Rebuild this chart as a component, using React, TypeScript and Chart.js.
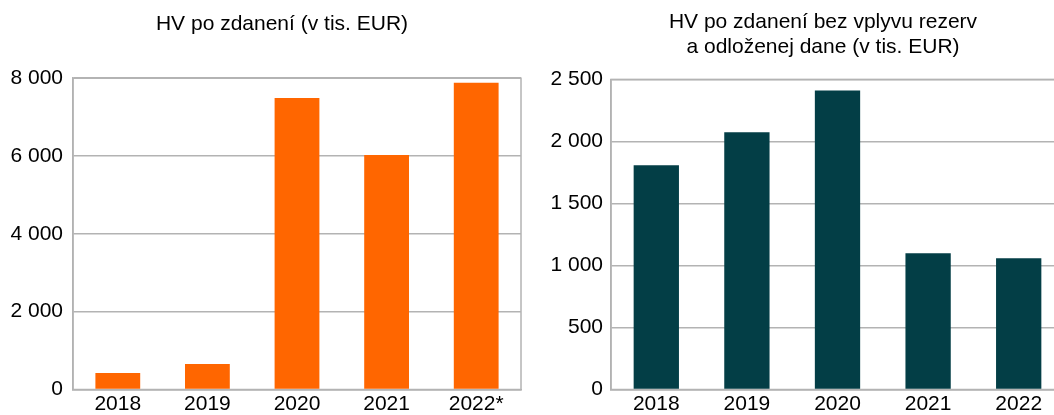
import React, { useEffect, useRef } from "react";
import { Chart, registerables } from "chart.js";

Chart.register(...registerables);

const categoriesLeft = ["2018", "2019", "2020", "2021", "2022*"];
const valuesLeft = [424, 655, 7494, 6028, 7880];
const titleLeft = "HV po zdanení (v tis. EUR)";

const categoriesRight = ["2018", "2019", "2020", "2021", "2022"];
const valuesRight = [1807, 2073, 2411, 1099, 1059];
const titleRight = ["HV po zdanení bez vplyvu rezerv", "a odloženej dane (v tis. EUR)"];

const FONT = "'Liberation Sans', Arial, sans-serif";
const GRID = "#b3b3b3";
const FS = 21;

const fmt = (v: number) => String(v).replace(/\B(?=(\d{3})+(?!\d))/g, " ");

const framePlugin = {
  id: "frame",
  beforeDatasetsDraw(chart: any) {
    const { ctx, chartArea } = chart;
    ctx.save();
    ctx.strokeStyle = GRID;
    ctx.lineWidth = 1.5;
    ctx.strokeRect(chartArea.left, chartArea.top, chartArea.right - chartArea.left, chartArea.bottom - chartArea.top);
    ctx.restore();
  },
};

function BarChart(props: {
  labels: string[];
  values: number[];
  title: string | string[];
  color: string;
  max: number;
  step: number;
  width: number;
  axisWidth: number;
  rightWidth: number;
  tickPad: number;
  titleTop: number;
  titleBottom: number;
}) {
  const ref = useRef<HTMLCanvasElement | null>(null);
  useEffect(() => {
    if (!ref.current) return;
    const chart = new Chart(ref.current, {
      type: "bar",
      data: {
        labels: props.labels,
        datasets: [
          {
            data: props.values,
            backgroundColor: props.color,
            barPercentage: 0.5,
            categoryPercentage: 1,
            yAxisID: "y",
          },
        ],
      },
      options: {
        responsive: false,
        animation: false,
        layout: { padding: 0 },
        plugins: {
          legend: { display: false },
          tooltip: { enabled: false },
          title: {
            display: true,
            text: props.title,
            color: "#000",
            font: { family: FONT, size: FS, weight: "normal", lineHeight: 25.2 / FS },
            padding: { top: props.titleTop, bottom: props.titleBottom },
          },
        },
        scales: {
          x: {
            grid: { display: false, drawTicks: false },
            border: { display: true, color: GRID, width: 1.5 },
            ticks: { color: "#000", padding: 3.5, font: { family: FONT, size: FS, lineHeight: 22 / FS } },
            afterFit: (s: any) => {
              s.height = 25.5;
            },
          },
          y: {
            position: "left",
            min: 0,
            max: props.max,
            grid: { color: GRID, lineWidth: 1.5, drawTicks: false },
            border: { display: true, color: GRID, width: 1.5 },
            ticks: {
              stepSize: props.step,
              color: "#000",
              padding: props.tickPad,
              font: { family: FONT, size: FS, lineHeight: 1 },
              callback: (v: any) => fmt(Number(v)),
            },
            afterFit: (s: any) => {
              s.width = props.axisWidth;
            },
          },
          yr: {
            position: "right",
            display: true,
            grid: { display: false, drawTicks: false },
            border: { display: false },
            ticks: { display: false },
            afterFit: (s: any) => {
              s.width = props.rightWidth;
            },
          },
        },
      },
      plugins: [framePlugin],
    });
    return () => chart.destroy();
  }, []);
  return <canvas ref={ref} width={props.width} height={415} style={{ display: "block" }} />;
}

export default function App() {
  useEffect(() => {
    document.body.style.margin = "0";
  }, []);
  return (
    <div style={{ position: "relative", width: 1054, height: 415, overflow: "hidden", background: "#fff" }}>
      <div style={{ position: "absolute", left: 0, top: 0 }}>
        <BarChart
          labels={categoriesLeft}
          values={valuesLeft}
          title={titleLeft}
          color="#ff6600"
          max={8000}
          step={2000}
          width={564}
          axisWidth={73}
          rightWidth={43}
          tickPad={10}
          titleTop={11.5}
          titleBottom={41.5}
        />
      </div>
      <div style={{ position: "absolute", left: 530, top: 0 }}>
        <BarChart
          labels={categoriesRight}
          values={valuesRight}
          title={titleRight}
          color="#033e46"
          max={2500}
          step={500}
          width={586}
          axisWidth={81}
          rightWidth={52}
          tickPad={8}
          titleTop={9.5}
          titleBottom={19.5}
        />
      </div>
    </div>
  );
}
